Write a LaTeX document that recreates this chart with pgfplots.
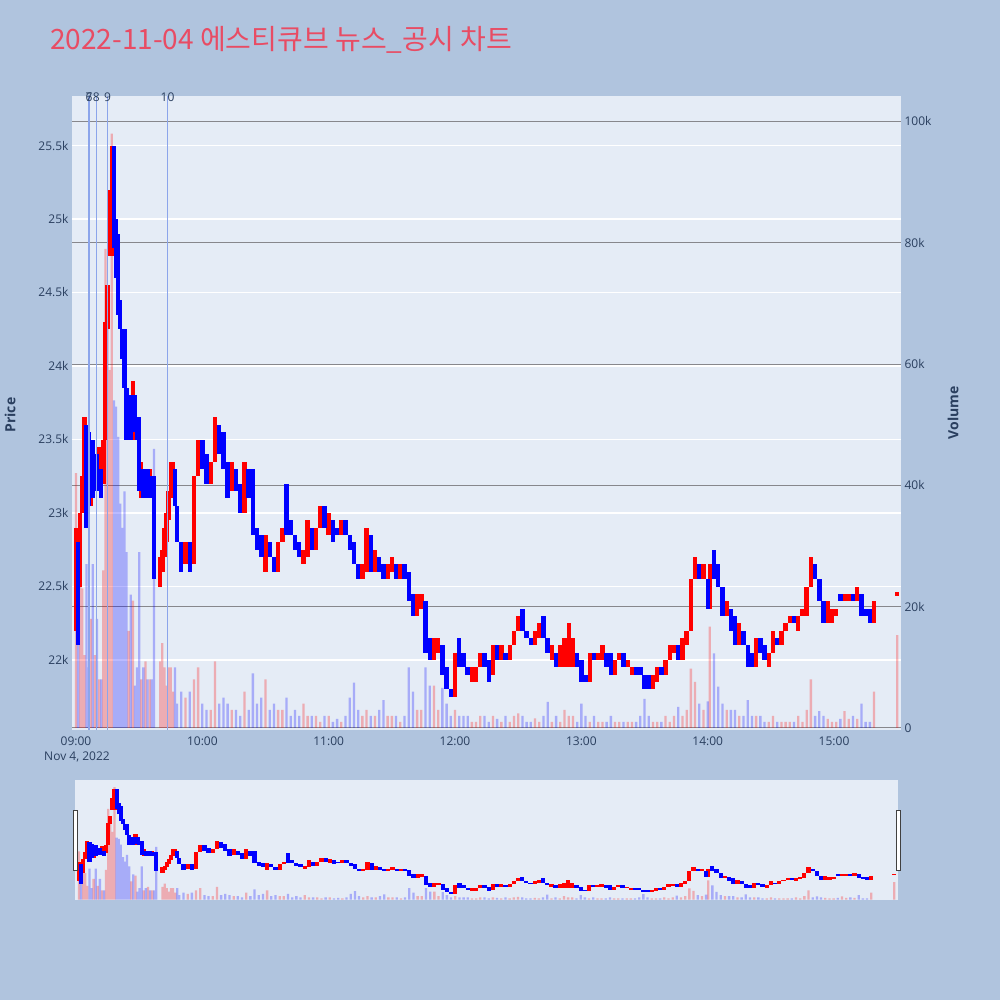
\documentclass[border=0pt]{standalone}
\usepackage{pgfplots}
\pgfplotsset{compat=1.18}
\usepackage{pgfplotstable}
\usepackage{fontspec}
\setmainfont{Open Sans}
\newfontfamily\kr{Noto Sans CJK KR}
\definecolor{pagebg}{RGB}{176,196,222}
\definecolor{plotbg}{RGB}{229,236,246}
\definecolor{txt}{RGB}{42,63,95}
\definecolor{inc}{RGB}{255,0,0}
\definecolor{dec}{RGB}{0,0,255}
\definecolor{newsc}{RGB}{140,165,235}
\definecolor{gridg}{RGB}{135,135,140}
\definecolor{titlec}{RGB}{232,76,100}

\pgfplotstableread{
t o c v
0 22200 22900 42
1 22800 22100 30
2 22500 23000 28
3 23000 23250 23
4 23000 23650 12
5 23600 22900 27
6 23550 23050 10
7 23050 23500 18
8 23500 23100 27
9 23150 23400 12
10 23400 23150 18
11 23200 23450 8
12 23300 23100 8
13 23200 23500 26
14 23500 24300 79
15 24250 24550 66
16 24750 25200 59
17 24750 25500 98
18 25500 24800 54
19 25000 24600 53
20 24900 24350 48
21 24450 24250 37
22 24250 24050 33
23 24250 23850 39
24 23850 23500 29
25 23550 23800 16
26 23800 23500 22
27 23500 23900 21
28 23800 23550 7
29 23650 23500 10
30 23650 23150 29
31 23100 23350 8
32 23300 23100 10
33 23100 23300 11
34 23300 23100 8
35 23100 23300 8
36 23250 23100 8
37 23250 22550 46
40 22500 22700 11
41 22600 22750 14
42 22700 22900 10
43 22800 23000 7
44 22950 23150 10
45 23100 23350 10
46 23250 23350 6
47 23300 23050 10
48 23050 22800 4
50 22800 22600 6
52 22650 22800 5
54 22800 22600 6
56 22650 23250 8
58 23250 23500 10
60 23500 23300 4
62 23400 23200 3
64 23200 23350 3
66 23350 23650 11
68 23600 23400 4
70 23550 23300 5
72 23350 23100 4
74 23150 23350 3
76 23300 23150 3
78 23200 23000 2
80 23000 23350 6
82 23300 23100 3
84 23300 22850 9
86 22900 22750 4
88 22850 22700 5
90 22600 22850 8
92 22800 22700 3
94 22700 22600 4
96 22600 22800 3
98 22800 22900 3
100 23200 22850 5
102 22950 22850 2
104 22850 22750 3
106 22800 22700 2
108 22650 22750 4
110 22700 22950 2
112 22900 22750 2
114 22750 22900 2
116 22900 23050 1
118 23050 22900 2
120 22850 23000 2
122 22950 22800 1
124 22900 22850 1.5
126 22850 22950 1
128 22950 22850 2
130 22850 22750 5
132 22800 22650 7.5
134 22650 22550 3
136 22550 22650 2
138 22600 22900 3
140 22850 22600 2
142 22600 22750 2
144 22700 22600 3
146 22650 22550 4.6
148 22550 22650 2
150 22600 22700 2
152 22650 22550 2
154 22550 22650 1
156 22650 22550 2
158 22600 22400 10
160 22450 22300 6
162 22300 22450 3
164 22350 22450 3
166 22400 22050 10
168 22150 22000 7
170 22000 22150 7
172 22050 22150 3
174 22100 21900 6.6
176 21950 21800 4
178 21800 21750 2
180 21750 22050 3
182 22150 21950 2
184 22050 21950 2
186 21950 21900 2
188 21850 21950 1
190 21850 21950 1
192 21950 22050 2
194 22050 21950 2
196 22000 21850 1
198 21900 22100 2
200 22100 22000 1.5
202 22000 22100 1
204 22050 22000 2
206 22000 22100 1
208 22100 22200 2
210 22200 22300 2.4
212 22350 22200 2
214 22200 22150 1
216 22150 22100 1
218 22100 22200 1.6
220 22150 22250 1
222 22300 22150 2
224 22150 22050 4.3
226 22000 22100 1
228 22050 21950 2
230 21950 22100 1
232 21950 22150 3
234 21950 22250 2
236 21950 22150 2
238 22050 21950 1
240 22000 21850 4
242 21900 21850 2
244 21850 22050 1
246 22050 22000 2
248 22000 22050 1
250 22000 22100 1
252 22050 21950 1
254 22050 21900 2
256 21900 22000 1
258 22000 22050 1
260 22050 21950 1
262 21950 22000 1
264 21900 21950 1
266 21950 21900 1
268 21950 21900 2
270 21900 21800 4.8
272 21900 21800 2
274 21800 21900 1
276 21850 21950 1
278 21950 21900 1
280 21900 22000 2
282 22000 22100 1
284 22050 22100 2
286 22100 22000 3.5
288 22000 22150 2
290 22100 22200 3
292 22200 22550 9.8
294 22550 22700 7.6
296 22650 22550 4
298 22550 22650 3
300 22550 22350 4.4
301 22350 22650 16.7
303 22750 22550 12.3
305 22650 22500 6.8
307 22500 22300 4
309 22300 22400 3
311 22350 22200 3
313 22300 22100 3
315 22100 22250 2
317 22200 22100 2
319 22100 21950 4.6
321 22050 21950 2
323 21950 22150 2
325 22150 22050 2
327 22100 22000 1
329 21950 22050 1
331 22050 22200 2
333 22150 22100 1
335 22100 22200 1
337 22200 22250 1
339 22250 22300 1
341 22300 22250 1
343 22200 22300 2
345 22300 22350 1
347 22300 22500 3
349 22500 22700 8
351 22650 22550 2
353 22550 22400 2.8
355 22400 22250 2
357 22250 22400 1.5
359 22250 22350 1
361 22300 22350 1
363 22450 22400 1.5
365 22400 22450 2.8
367 22400 22450 1.5
369 22450 22400 2
371 22400 22500 1.5
373 22450 22300 4
375 22350 22300 1
377 22350 22250 1
379 22250 22400 6
390 22440 22460 15.3
}\candles

\pgfplotsset{
  mainbox/.style={scale only axis, width=829pt, height=634pt, at={(72pt,270pt)}, anchor=south west,
    xmin=-1.9, xmax=391.8, axis line style={draw=none}, major tick length=0pt,
    scaled y ticks=false, scaled x ticks=false},
  slidebox/.style={scale only axis, width=823pt, height=120pt, at={(75pt,100pt)}, anchor=south west,
    xmin=-1.9, xmax=391.8, axis line style={draw=none}, major tick length=0pt, xtick=\empty, ytick=\empty},
  pricey/.style={ymin=21524, ymax=25837},
  voly/.style={ymin=-0.33, ymax=104.2},
  upf/.style={restrict expr to domain={\thisrow{c}-\thisrow{o}}{0:100000}},
  dnf/.style={restrict expr to domain={\thisrow{c}-\thisrow{o}}{-100000:-1}},
  candle/.style 2 args={draw=none, mark=none, forget plot,
    error bars/y dir=both, error bars/y explicit, error bars/error mark=none,
    error bars/error bar style={draw=#1, line width=#2}},
  volbar/.style={ybar, bar shift=0pt, bar width=2.3pt, draw=none, fill=#1, fill opacity=0.27, forget plot},
  tickfont/.style={tick label style={font=\fontsize{12}{14}\selectfont, text=txt}},
}

\begin{document}
\begin{tikzpicture}
\fill[pagebg] (0,0) rectangle (1000pt,1000pt);
\path[use as bounding box] (0,0) rectangle (1000pt,1000pt);

% main: background + price grid + ticks
\begin{axis}[mainbox, pricey, tickfont,
  axis background/.style={fill=plotbg},
  ytick={22000,22500,23000,23500,24000,24500,25000,25500},
  yticklabels={22k,22.5k,23k,23.5k,24k,24.5k,25k,25.5k},
  ymajorgrids, grid style={white, line width=1.3pt},
  xtick={0,60,120,180,240,300,360},
  xticklabels={09:00,10:00,11:00,12:00,13:00,14:00,15:00},
  xticklabel style={yshift=-3pt}]
\end{axis}

% main: volume
\begin{axis}[mainbox, voly, tickfont,
  xtick=\empty, yticklabel pos=right,
  ytick={0,20,40,60,80,100}, yticklabels={0,20k,40k,60k,80k,100k},
  ymajorgrids, grid style={gridg, line width=1pt}]
\addplot[volbar=inc, upf] table[x=t, y=v]{\candles};
\addplot[volbar=dec, dnf] table[x=t, y=v]{\candles};
\end{axis}

% main: candles and news lines
\begin{axis}[mainbox, pricey, xtick=\empty, ytick=\empty, clip=false]
\addplot[candle={inc}{4.4pt}, upf] table[x=t, y expr={(\thisrow{o}+\thisrow{c})/2}, y error expr={max(abs(\thisrow{c}-\thisrow{o})/2,12)}]{\candles};
\addplot[candle={dec}{4.4pt}, dnf] table[x=t, y expr={(\thisrow{o}+\thisrow{c})/2}, y error expr={max(abs(\thisrow{c}-\thisrow{o})/2,12)}]{\candles};
\addplot[newsc, line width=1.4pt, forget plot] coordinates {(6.2,21524) (6.2,25837)};
\addplot[newsc, line width=1.4pt, forget plot] coordinates {(9.7,21524) (9.7,25837)};
\addplot[newsc, line width=1.4pt, forget plot] coordinates {(15.0,21524) (15.0,25837)};
\addplot[newsc, line width=1.4pt, forget plot] coordinates {(43.5,21524) (43.5,25837)};
\node[text=txt, font=\fontsize{12}{14}\selectfont] at (axis cs:6.2,25830) {6};
\node[text=txt, font=\fontsize{12}{14}\selectfont] at (axis cs:6.2,25830) {7};
\node[text=txt, font=\fontsize{12}{14}\selectfont] at (axis cs:9.7,25830) {8};
\node[text=txt, font=\fontsize{12}{14}\selectfont] at (axis cs:15.0,25830) {9};
\node[text=txt, font=\fontsize{12}{14}\selectfont] at (axis cs:43.5,25830) {10};
\end{axis}

% range slider
\begin{axis}[slidebox, voly, axis background/.style={fill=plotbg}]
\addplot[volbar=inc, upf] table[x=t, y=v]{\candles};
\addplot[volbar=dec, dnf] table[x=t, y=v]{\candles};
\end{axis}
\begin{axis}[slidebox, pricey]
\addplot[candle={inc}{4.2pt}, upf] table[x=t, y expr={(\thisrow{o}+\thisrow{c})/2}, y error expr={max(abs(\thisrow{c}-\thisrow{o})/2,25)}]{\candles};
\addplot[candle={dec}{4.2pt}, dnf] table[x=t, y expr={(\thisrow{o}+\thisrow{c})/2}, y error expr={max(abs(\thisrow{c}-\thisrow{o})/2,25)}]{\candles};
\end{axis}
\draw[fill=white, draw=black!75, line width=0.8pt] (73pt,130pt) rectangle (77pt,190pt);
\draw[fill=white, draw=black!75, line width=0.8pt] (896pt,130pt) rectangle (900pt,190pt);

% texts
\node[anchor=west, text=titlec, font=\kr\fontsize{28}{32}\selectfont, inner sep=0pt] at (50pt,960pt) {2022-11-04 에스티큐브 뉴스\_공시 차트};
\node[text=txt, font=\fontsize{12}{14}\selectfont] at (77pt,243pt) {Nov 4, 2022};
\node[text=txt, font=\bfseries\fontsize{14}{16}\selectfont, rotate=90] at (10pt,585pt) {Price};
\node[text=txt, font=\bfseries\fontsize{14}{16}\selectfont, rotate=90] at (953pt,587pt) {Volume};
\end{tikzpicture}
\end{document}
